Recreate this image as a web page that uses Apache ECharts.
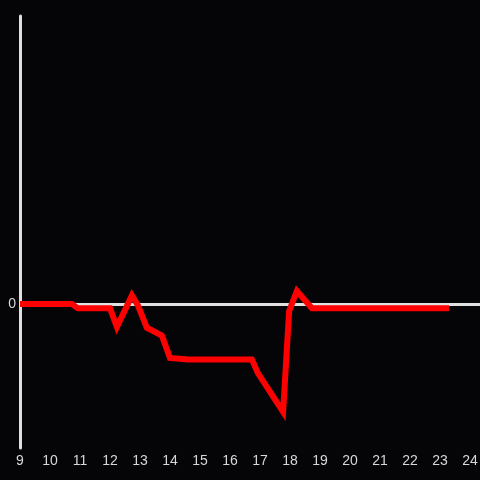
<!DOCTYPE html>
<html>
<head>
<meta charset="utf-8">
<script src="https://cdn.jsdelivr.net/npm/echarts@6/dist/echarts.min.js"></script>
<style>
  html, body { margin: 0; padding: 0; background: #050407; }
</style>
</head>
<body>
<div id="chart" style="width: 480px; height: 480px"></div>
<script>
// 时间（小时）与数值
const hours = [9.0, 10.73, 10.93, 12.0, 12.23, 12.73, 12.93, 13.23, 13.73, 14.0, 14.6, 16.73, 16.93, 17.77, 17.97, 18.23, 18.73, 23.3]
const values = [0, 0, -0.03, -0.03, -0.16, 0.06, -0.01, -0.165, -0.22, -0.375, -0.385, -0.385, -0.48, -0.75, -0.05, 0.09, -0.03, -0.03]
const yTickLabels = ['0']

const chart = echarts.init(document.getElementById('chart'))

const option = {
  backgroundColor: '#050407',
  animation: false,
  grid: { left: 20, right: 0, top: 16, bottom: 32, containLabel: false, outerBoundsMode: 'none' },
  xAxis: {
    type: 'value',
    min: 9,
    max: 24.333,
    interval: 1,
    axisLine: { show: false },
    axisTick: { show: false },
    splitLine: { show: false },
    axisLabel: {
      color: '#d8d8d8',
      fontSize: 14,
      fontFamily: 'Liberation Sans',
      margin: 6,
      formatter: v => (Number.isInteger(v) ? String(v) : '')
    }
  },
  yAxis: {
    type: 'value',
    min: -1,
    max: 2,
    interval: 1,
    axisLine: { show: true, onZero: false, lineStyle: { color: '#e0e0e0', width: 3 } },
    axisTick: { show: false },
    splitLine: { show: false },
    axisLabel: {
      color: '#d8d8d8',
      fontSize: 14,
      fontFamily: 'Liberation Sans',
      margin: 4,
      formatter: v => (yTickLabels.includes(String(v)) ? String(v) : '')
    }
  },
  series: [
    {
      // 零线
      type: 'line',
      data: [],
      z: 1,
      markLine: {
        silent: true,
        symbol: 'none',
        label: { show: false },
        lineStyle: { color: '#e0e0e0', width: 3, type: 'solid' },
        data: [{ yAxis: 0 }]
      }
    },
    {
      type: 'line',
      z: 5,
      data: hours.map((h, i) => [h, values[i]]),
      symbol: 'none',
      lineStyle: { color: '#ff0000', width: 6, join: 'miter' }
    }
  ]
}

chart.setOption(option)
</script>
</body>
</html>
